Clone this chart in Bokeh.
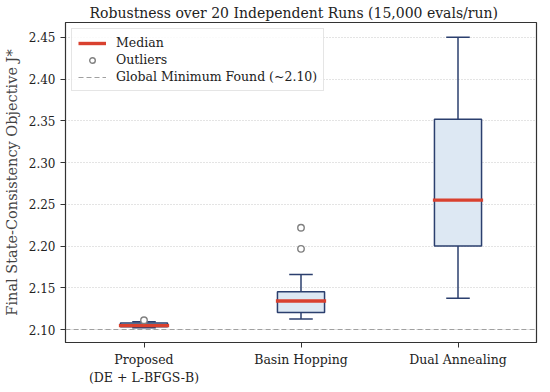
from bokeh.plotting import figure
from bokeh.models import FixedTicker, PrintfTickFormatter, Legend, LegendItem, Title, LinearAxis
from bokeh.embed import file_html
from bokeh.resources import INLINE

# ---- data ----
methods = ["Proposed", "Basin Hopping", "Dual Annealing"]
methods_sub = ["(DE + L-BFGS-B)", "", ""]
positions = [1, 2, 3]
whisk_low = [2.1022, 2.1126, 2.1375]
q1 = [2.1036, 2.1205, 2.2002]
median = [2.1048, 2.1343, 2.2550]
q3 = [2.1080, 2.1453, 2.3520]
whisk_high = [2.1093, 2.1659, 2.4500]
outlier_x = [1, 2, 2]
outlier_y = [2.1113, 2.1967, 2.2219]
global_min = 2.10
y_ticks = [2.10, 2.15, 2.20, 2.25, 2.30, 2.35, 2.40, 2.45]

BOX_W = 0.3
FONT = "DejaVu Serif"
NAVY = "#2b3f6e"
FILL = "#dde8f3"
RED = "#d9412f"
GREY = "#808080"

p = figure(frame_width=471, frame_height=320, output_backend="svg", toolbar_location=None,
           x_range=(0.5, 3.5), y_range=(2.0846, 2.4677),
           min_border_left=61, min_border_right=2, min_border_top=0, min_border_bottom=0)

t = Title(text="Robustness over 20 Independent Runs (15,000 evals/run)", align="left",
          offset=24, text_font=FONT, text_font_size="14px", text_font_style="normal",
          text_color="#222222", standoff=4)
p.add_layout(t, "above")

# boxes
lefts = [x - BOX_W / 2 for x in positions]
rights = [x + BOX_W / 2 for x in positions]
cap_l = [x - BOX_W / 4 for x in positions]
cap_r = [x + BOX_W / 4 for x in positions]

p.segment(x0=positions, x1=positions, y0=q3, y1=whisk_high, line_color=NAVY, line_width=1.5)
p.segment(x0=positions, x1=positions, y0=whisk_low, y1=q1, line_color=NAVY, line_width=1.5)
p.segment(x0=cap_l, x1=cap_r, y0=whisk_high, y1=whisk_high, line_color=NAVY, line_width=1.5)
p.segment(x0=cap_l, x1=cap_r, y0=whisk_low, y1=whisk_low, line_color=NAVY, line_width=1.5)
p.quad(left=lefts, right=rights, bottom=q1, top=q3, fill_color=FILL, line_color=NAVY, line_width=1.5)

gm = p.hspan(y=[global_min], line_color="#a0a0a0", line_dash="5 3", line_width=1.2)
med_r = p.segment(x0=[x - BOX_W / 2 - 0.01 for x in positions],
                  x1=[x + BOX_W / 2 + 0.01 for x in positions],
                  y0=median, y1=median, line_color=RED, line_width=3.4)
out_r = p.scatter(x=outlier_x, y=outlier_y, size=6.5, marker="circle", fill_color="white",
                  line_color=GREY, line_width=1.4)

legend = Legend(items=[LegendItem(label="Median", renderers=[med_r]),
                       LegendItem(label="Outliers", renderers=[out_r]),
                       LegendItem(label="Global Minimum Found (~2.10)", renderers=[gm])],
                location="top_left", label_text_font=FONT, label_text_font_size="12.5px",
                label_text_color="#222222", glyph_width=28, glyph_height=14,
                spacing=2, padding=6, margin=6, label_standoff=10,
                border_line_color="#cccccc", border_line_width=1,
                background_fill_alpha=0.85)
p.add_layout(legend)

# axes styling
p.xaxis.ticker = FixedTicker(ticks=positions)
p.xaxis.major_label_overrides = {pos: m for pos, m in zip(positions, methods)}
p.yaxis.ticker = FixedTicker(ticks=y_ticks)
p.yaxis.formatter = PrintfTickFormatter(format="%.2f")
p.yaxis.axis_label = "Final State-Consistency Objective J*"
p.yaxis.axis_label_text_font = FONT
p.yaxis.axis_label_text_font_size = "14.5px"
p.yaxis.axis_label_text_font_style = "normal"
p.yaxis.axis_label_standoff = 6
for ax in (p.xaxis, p.yaxis):
    ax.major_label_text_font = FONT
    ax.major_label_text_color = "#222222"
    ax.axis_line_color = "#333333"
    ax.major_tick_line_color = "#333333"
    ax.major_tick_out = 5
    ax.major_tick_in = 0
    ax.minor_tick_line_color = None
p.xaxis.major_label_text_font_size = "12.5px"
p.yaxis.major_label_text_font_size = "12px"
p.xaxis.major_label_standoff = 4

# second line of the x tick labels
ax2 = LinearAxis(ticker=FixedTicker(ticks=positions),
                 major_label_overrides={pos: s for pos, s in zip(positions, methods_sub)},
                 axis_line_color=None, major_tick_line_color=None, minor_tick_line_color=None,
                 major_tick_out=0, major_tick_in=0, major_label_standoff=0,
                 major_label_text_font=FONT, major_label_text_font_size="12.5px",
                 major_label_text_color="#222222")
p.add_layout(ax2, "below")

p.xgrid.grid_line_color = None
p.ygrid.grid_line_color = "#c8c8c8"
p.ygrid.grid_line_dash = "1 2"
p.ygrid.grid_line_width = 1
p.outline_line_color = "#333333"
p.outline_line_width = 1.2
p.background_fill_color = "white"

open("out.html", "w").write(file_html(p, INLINE))
